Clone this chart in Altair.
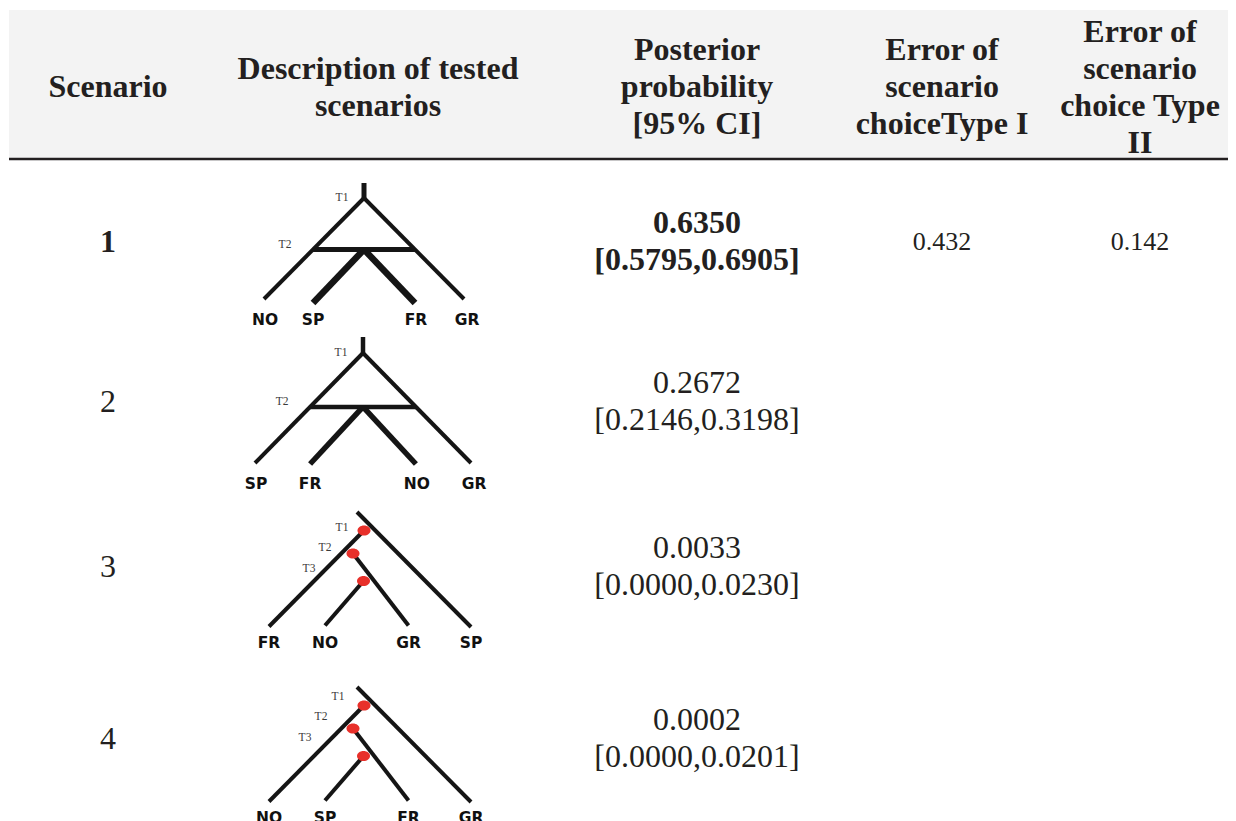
import altair as alt
import pandas as pd

# ---------------- data ----------------
header_lines = [
    ["Scenario"],
    ["Description of tested", "scenarios"],
    ["Posterior", "probability", "[95% CI]"],
    ["Error of", "scenario", "choiceType I"],
    ["Error of", "scenario", "choice Type", "II"],
]
scenario_ids = ["1", "2", "3", "4"]
posterior = ["0.6350", "0.2672", "0.0033", "0.0002"]
ci95 = ["[0.5795,0.6905]", "[0.2146,0.3198]", "[0.0000,0.0230]", "[0.0000,0.0201]"]
error_type1 = ["0.432", "", "", ""]
error_type2 = ["0.142", "", "", ""]
best_row = 0
tree_type = ["admix", "admix", "split", "split"]
tree_leaves = [
    ["NO", "SP", "FR", "GR"],
    ["SP", "FR", "NO", "GR"],
    ["FR", "NO", "GR", "SP"],
    ["NO", "SP", "FR", "GR"],
]
time_labels_admix = ["T1", "T2"]
time_labels_split = ["T1", "T2", "T3"]

# ---------------- layout ----------------
W, H = 1220, 813
X0, Y0 = 8, 8
col_x = [108, 378, 697, 942, 1140]
head_mid, head_step = 97, 37
band = dict(x=9, x2=1240, y=10, y2=158)
rule_y = 159
row_base = [252, 412, 577, 749]
dark = "#231f20"

admix_geo = [
    dict(cx=364, top=183, apex=198, h=101, hw=100, f=0.51, ddy=4, wo=4, wi=6.5, wb=5),
    dict(cx=363, top=337, apex=353, h=110, hw=108, f=0.49, ddy=1, wo=4, wi=5.5, wb=4.5),
]
split_anchor = {2: (357, 512, 0, 0), 3: (357, 687, -4, -6)}
split_long = (114, 115)
split_nodes = [(7, 18.5), (-4, 41.5), (6.5, 69)]
split_tips = [(-88, 114.5), (51.5, 113.5), (-32, 113.5)]
split_tlab = [(-15, 16), (-32, 36), (-48, 57)]
split_leaf_x = [-88, -32, 51.5, 114]
split_leaf_dy = 131

# ---------------- build tables ----------------
head_rows = []
for i, lines in enumerate(header_lines):
    n = len(lines)
    for j, t in enumerate(lines):
        head_rows.append(dict(x=col_x[i], y=head_mid + (j - (n - 1) / 2) * head_step, text=t))

bold_rows, reg_rows, err_rows = [], [], []
for r in range(4):
    c = row_base[r]
    target = bold_rows if r == best_row else reg_rows
    target.append(dict(x=col_x[0], y=c, text=scenario_ids[r]))
    target.append(dict(x=col_x[2], y=c - 19, text=posterior[r]))
    target.append(dict(x=col_x[2], y=c + 18, text=ci95[r]))
    if error_type1[r]:
        err_rows.append(dict(x=col_x[3], y=c - 2, text=error_type1[r]))
    if error_type2[r]:
        err_rows.append(dict(x=col_x[4], y=c - 2, text=error_type2[r]))

segs, dots, tlabs, leaves = [], [], [], []
for r in range(4):
    if tree_type[r] == "admix":
        g = admix_geo[r]
        cx, ap, h, hw, f = g["cx"], g["apex"], g["h"], g["hw"], g["f"]
        tip = ap + h
        by = ap + f * h
        segs += [
            dict(x=cx, y=g["top"], x2=cx, y2=ap + 1, w=g["wb"]),
            dict(x=cx, y=ap, x2=cx - hw, y2=tip, w=g["wo"]),
            dict(x=cx, y=ap, x2=cx + hw, y2=tip, w=g["wo"]),
            dict(x=cx - hw * f, y=by, x2=cx + hw * f, y2=by, w=g["wb"]),
            dict(x=cx, y=by, x2=cx - hw * f, y2=tip + g["ddy"], w=g["wi"]),
            dict(x=cx, y=by, x2=cx + hw * f, y2=tip + g["ddy"], w=g["wi"]),
        ]
        tlabs.append(dict(x=cx - 22, y=ap, text=time_labels_admix[0]))
        tlabs.append(dict(x=cx - hw * f - 28, y=by - 5, text=time_labels_admix[1]))
        lx = [cx - hw + 1, cx - hw * f, cx + hw * f + 1, cx + hw + 3]
        for k, name in enumerate(tree_leaves[r]):
            leaves.append(dict(x=lx[k], y=tip + 21, text=name))
    else:
        ax, ay, tdx, tdy = split_anchor[r]
        segs.append(dict(x=ax, y=ay, x2=ax + split_long[0], y2=ay + split_long[1], w=4))
        for k in range(3):
            nx, ny = split_nodes[k]
            ex, ey = split_tips[k]
            segs.append(dict(x=ax + nx, y=ay + ny, x2=ax + ex, y2=ay + ey, w=4))
        for k in range(3):
            nx, ny = split_nodes[k]
            dots.append(dict(x=ax + nx, y=ay + ny))
            lx_, ly_ = split_tlab[k]
            tlabs.append(dict(x=ax + lx_ + tdx, y=ay + ly_ + tdy, text=time_labels_split[k]))
        for k, name in enumerate(tree_leaves[r]):
            leaves.append(dict(x=ax + split_leaf_x[k], y=ay + split_leaf_dy, text=name))

xs = alt.Scale(domain=[X0, X0 + W], nice=False, zero=False)
ys = alt.Scale(domain=[Y0, Y0 + H], nice=False, zero=False, reverse=True)
X = lambda f="x": alt.X(f"{f}:Q", scale=xs, axis=None)
Y = lambda f="y": alt.Y(f"{f}:Q", scale=ys, axis=None)

band_layer = alt.Chart(pd.DataFrame([band])).mark_rect(color="#f3f3f3").encode(
    x=X(), x2="x2:Q", y=Y(), y2="y2:Q")
rule_layer = alt.Chart(pd.DataFrame([dict(x=band["x"], x2=band["x2"], y=rule_y)])).mark_rule(
    color=dark, strokeWidth=2.6).encode(x=X(), x2="x2:Q", y=Y())


def text_layer(rows, size, weight="normal", font="Liberation Serif", color=dark, baseline="alphabetic"):
    return alt.Chart(pd.DataFrame(rows)).mark_text(
        font=font, fontSize=size, fontWeight=weight, color=color,
        align="center", baseline=baseline).encode(x=X(), y=Y(), text="text:N")


head_layer = text_layer(head_rows, 32, "bold")
bold_layer = text_layer(bold_rows, 32, "bold")
reg_layer = text_layer(reg_rows, 32)
err_layer = text_layer(err_rows, 26)
seg_layer = alt.Chart(pd.DataFrame(segs)).mark_rule(color="#151515").encode(
    x=X(), y=Y(), x2="x2:Q", y2="y2:Q", size=alt.Size("w:Q", scale=None, legend=None))
dot_layer = alt.Chart(pd.DataFrame(dots)).mark_point(
    shape="M-1,0A1,0.78,0,1,1,1,0A1,0.78,0,1,1,-1,0Z", filled=True, size=169,
    color="#e8302a", opacity=1).encode(x=X(), y=Y())
tlab_layer = text_layer(tlabs, 11.5, font="Liberation Serif", color="#3a3a3a", baseline="middle")
leaf_layer = text_layer(leaves, 15.5, "bold", font="DejaVu Sans", color="#111111", baseline="middle")

chart = alt.layer(
    band_layer, rule_layer, head_layer, bold_layer, reg_layer, err_layer,
    seg_layer, dot_layer, tlab_layer, leaf_layer
).properties(
    width=W, height=H, autosize=alt.AutoSizeParams(type="none"), padding=0
).configure_view(stroke="transparent")

chart.save("out.html", embed_options={"renderer": "svg", "actions": False})
